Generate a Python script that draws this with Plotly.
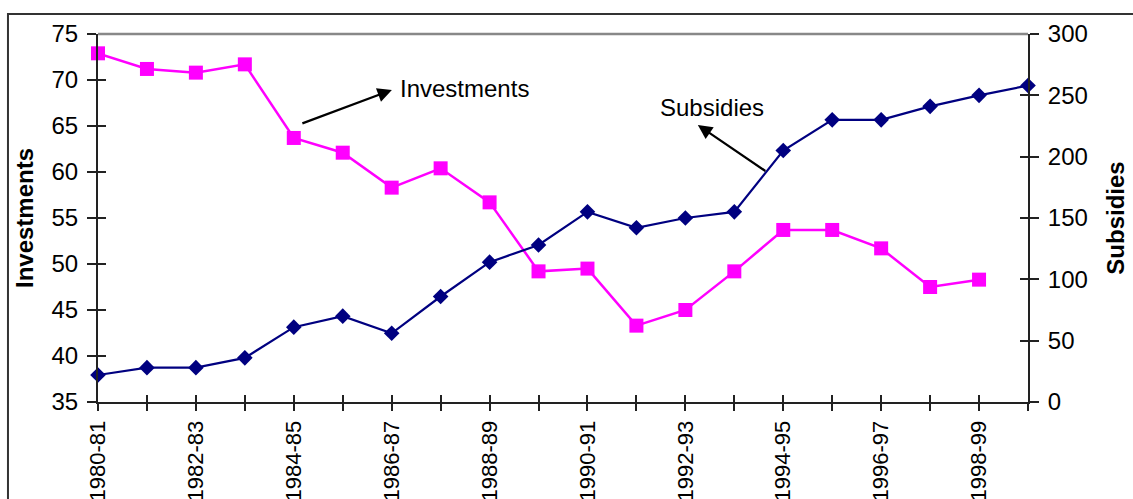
import plotly.graph_objects as go

years = ["1980-81", "1981-82", "1982-83", "1983-84", "1984-85", "1985-86", "1986-87",
         "1987-88", "1988-89", "1989-90", "1990-91", "1991-92", "1992-93", "1993-94",
         "1994-95", "1995-96", "1996-97", "1997-98", "1998-99", "1999-00"]
investments = [72.9, 71.2, 70.8, 71.7, 63.7, 62.1, 58.3, 60.4, 56.7, 49.2,
               49.5, 43.3, 45.0, 49.2, 53.7, 53.7, 51.7, 47.5, 48.3, None]
subsidies = [22, 28, 28, 36, 61, 70, 56, 86, 114, 128,
             155, 142, 150, 155, 205, 230, 230, 241, 250, 258]
tick_text = [y if i % 2 == 0 else "" for i, y in enumerate(years)]

FONT = "Liberation Sans, Arial, sans-serif"
TICKFS = 24

fig = go.Figure()
fig.add_trace(go.Scatter(
    x=years, y=investments, mode="lines+markers", name="Investments",
    line=dict(color="#FF00FF", width=2.5),
    marker=dict(symbol="square", size=14, color="#FF00FF"),
    yaxis="y", cliponaxis=False))
fig.add_trace(go.Scatter(
    x=years, y=subsidies, mode="lines+markers", name="Subsidies",
    line=dict(color="#000080", width=2.2),
    marker=dict(symbol="diamond", size=12, color="#000080"),
    yaxis="y2", cliponaxis=False))
# invisible helper traces so the inner-tick overlay axes are drawn (cross ticks)
fig.add_trace(go.Scatter(x=[None], y=[None], xaxis="x2", yaxis="y", showlegend=False, hoverinfo="skip"))
fig.add_trace(go.Scatter(x=[None], y=[None], xaxis="x", yaxis="y3", showlegend=False, hoverinfo="skip"))
fig.add_trace(go.Scatter(x=[None], y=[None], xaxis="x", yaxis="y4", showlegend=False, hoverinfo="skip"))

axis_line = dict(showline=True, linecolor="#222222", linewidth=2, showgrid=False, zeroline=False)

fig.update_layout(
    width=1133, height=499,
    margin=dict(l=98, r=105, t=34, b=97, autoexpand=False),
    paper_bgcolor="white", plot_bgcolor="white",
    showlegend=False,
    font=dict(family=FONT, size=TICKFS, color="black"),
    xaxis=dict(type="category", categoryorder="array", categoryarray=years,
               range=[0, 19], tickmode="array", tickvals=years, ticktext=tick_text,
               ticks="outside", ticklen=7, tickwidth=1.5, tickcolor="#222222",
               tickangle=-90, ticklabelstandoff=1,
               tickfont=dict(size=22), **axis_line),
    xaxis2=dict(type="category", categoryorder="array", categoryarray=years,
                range=[0, 19], tickmode="array", tickvals=years,
                overlaying="x", anchor="y", side="bottom",
                ticks="inside", ticklen=7, tickwidth=1.5, tickcolor="#222222",
                showticklabels=False, showline=False, showgrid=False, zeroline=False),
    yaxis=dict(range=[35, 75], dtick=5, tick0=35,
               ticks="outside", ticklen=9, tickwidth=1.5, tickcolor="#222222",
               ticklabelstandoff=4,
               title=dict(text="<b>Investments</b>", font=dict(size=TICKFS), standoff=11),
               **axis_line),
    yaxis2=dict(range=[0, 300], dtick=50, tick0=0, overlaying="y", side="right", anchor="x",
                ticks="outside", ticklen=9, tickwidth=1.5, tickcolor="#222222",
                ticklabelstandoff=4,
                title=dict(text="<b>Subsidies</b>", font=dict(size=TICKFS), standoff=20),
                **axis_line),
    yaxis3=dict(range=[35, 75], dtick=5, tick0=35, overlaying="y", side="left", anchor="x",
                ticks="inside", ticklen=8, tickwidth=1.5, tickcolor="#222222",
                showticklabels=False, showline=False, showgrid=False, zeroline=False),
    yaxis4=dict(range=[0, 300], dtick=50, tick0=0, overlaying="y", side="right", anchor="x",
                ticks="inside", ticklen=8, tickwidth=1.5, tickcolor="#222222",
                showticklabels=False, showline=False, showgrid=False, zeroline=False),
)

# plot-area top border (gray) and outer chart border
fig.add_shape(type="line", xref="paper", yref="paper", x0=0, x1=1, y0=1, y1=1,
              line=dict(color="#888888", width=2.5), layer="below")
fig.add_shape(type="rect", xref="paper", yref="paper",
              x0=-0.0968, x1=1.2, y0=-0.4, y1=1.0543,
              line=dict(color="#333333", width=2), fillcolor="rgba(0,0,0,0)")

# series labels with arrows
fig.add_annotation(xref="paper", yref="paper", x=0.3226, y=0.853, text="Investments",
                   showarrow=False, xanchor="left", yanchor="middle",
                   font=dict(size=24, color="black"))
fig.add_annotation(xref="paper", yref="paper", x=0.316, y=0.848, text="",
                   showarrow=True, ax=-91, ay=34, arrowhead=2, arrowsize=1.3,
                   arrowwidth=2.2, arrowcolor="black", standoff=0)
fig.add_annotation(xref="paper", yref="paper", x=0.602, y=0.799, text="Subsidies",
                   showarrow=False, xanchor="left", yanchor="middle",
                   font=dict(size=24, color="black"))
fig.add_annotation(xref="paper", yref="paper", x=0.645, y=0.7527, text="",
                   showarrow=True, ax=69, ay=47, arrowhead=2, arrowsize=1.3,
                   arrowwidth=2.2, arrowcolor="black", standoff=0)

fig.write_html("out.html")
